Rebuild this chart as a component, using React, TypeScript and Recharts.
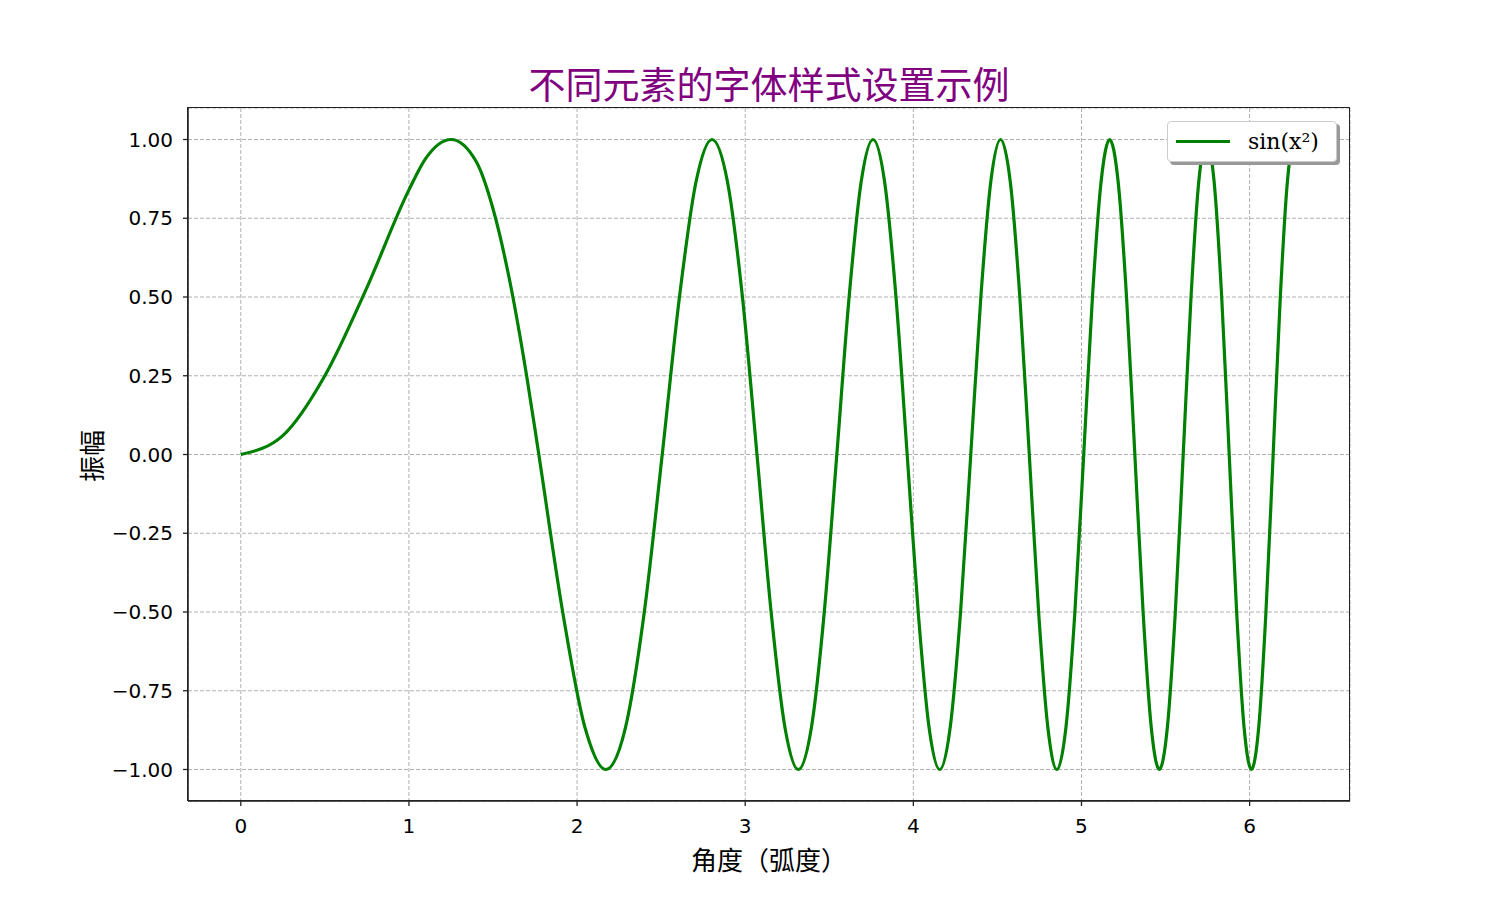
import React from 'react';
import { LineChart, Line, XAxis, YAxis, CartesianGrid } from 'recharts';

// x positions (zero crossings, half/peak points of each lobe)
const xValues = [
  0, 0.25, 0.5, 0.75, 1.0, 1.1, 1.25, 1.4, 1.5, 1.6, 1.7,
  1.7725, 1.9145, 2.0466, 2.1708, 2.2882, 2.3999,
  2.5066, 2.609, 2.7075, 2.8025, 2.8944, 2.9835,
  3.07, 3.1541, 3.2361, 3.316, 3.394, 3.4703,
  3.5449, 3.618, 3.6897, 3.7599, 3.829, 3.8967,
  3.9633, 4.0289, 4.0933, 4.1568, 4.2193, 4.2809,
  4.3416, 4.4015, 4.4606, 4.5189, 4.5765, 4.6333,
  4.6895, 4.745, 4.7998, 4.8541, 4.9077, 4.9608,
  5.0133, 5.0652, 5.1166, 5.1675, 5.218, 5.2679,
  5.3174, 5.3664, 5.4149, 5.4631, 5.5108, 5.5581,
  5.605, 5.6515, 5.6976, 5.7434, 5.7888, 5.8339,
  5.8786, 5.9229, 5.967, 6.0107, 6.0541, 6.0971,
  6.14, 6.1825, 6.2247, 6.2666, 6.2832,
];

const yValues = [
  0, 0.06, 0.25, 0.53, 0.84, 0.94, 1.0, 0.93, 0.78, 0.55, 0.25,
  0, -0.5, -0.866, -1, -0.866, -0.5,
  0, 0.5, 0.866, 1, 0.866, 0.5,
  0, -0.5, -0.866, -1, -0.866, -0.5,
  0, 0.5, 0.866, 1, 0.866, 0.5,
  0, -0.5, -0.866, -1, -0.866, -0.5,
  0, 0.5, 0.866, 1, 0.866, 0.5,
  0, -0.5, -0.866, -1, -0.866, -0.5,
  0, 0.5, 0.866, 1, 0.866, 0.5,
  0, -0.5, -0.866, -1, -0.866, -0.5,
  0, 0.5, 0.866, 1, 0.866, 0.5,
  0, -0.5, -0.866, -1, -0.866, -0.5,
  0, 0.5, 0.866, 1, 0.978,
];

const xTicks = [0, 1, 2, 3, 4, 5, 6];
const yTicks = [-1, -0.75, -0.5, -0.25, 0, 0.25, 0.5, 0.75, 1];

const seriesName = 'sin(x²)';
const titleText = '不同元素的字体样式设置示例';
const xLabelText = '角度（弧度）';
const yLabelText = '振幅';

const data = xValues.map((x, i) => ({ x, y: yValues[i] }));

const CJK = '"Noto Sans CJK SC", "Noto Sans", sans-serif';
const TICK_FONT = '"DejaVu Sans", sans-serif';
const X_DOMAIN: [number, number] = [-0.314, 6.597];
const Y_DOMAIN: [number, number] = [-1.1, 1.1];

function LegendBox() {
  return (
    <div
      style={{
        position: 'absolute',
        left: 1167,
        top: 121,
        width: 170,
        height: 41,
        boxSizing: 'border-box',
        border: '1px solid #cccccc',
        borderRadius: 4,
        background: '#fff',
        boxShadow: '3px 3px 0 #999999',
        display: 'flex',
        alignItems: 'center',
        paddingLeft: 8,
      }}
    >
      <div style={{ width: 54, height: 3, background: '#008000' }} />
      <span style={{ marginLeft: 18, fontFamily: '"DejaVu Serif", serif', fontSize: 22, color: '#000' }}>
        {seriesName}
      </span>
    </div>
  );
}

export default function App() {
  return (
    <div style={{ position: 'absolute', left: 0, top: 0, width: 1500, height: 900, background: '#fff' }}>
      <LineChart width={1500} height={900} data={data} margin={{ top: 108, right: 150, bottom: 59, left: 88 }}>
        <CartesianGrid stroke="#b0b0b0" strokeDasharray="4 2" strokeWidth={1} />
        <XAxis
          dataKey="x"
          type="number"
          domain={X_DOMAIN}
          ticks={xTicks}
          allowDataOverflow
          height={40}
          tickSize={5}
          tickMargin={13}
          tick={{ fill: '#000', fontSize: 20, fontFamily: TICK_FONT }}
          tickLine={{ stroke: '#222', strokeWidth: 1.3 }}
          axisLine={{ stroke: '#222', strokeWidth: 1.5 }}
        />
        <YAxis
          type="number"
          domain={Y_DOMAIN}
          ticks={yTicks}
          allowDataOverflow
          width={100}
          tickSize={5}
          tickMargin={10}
          tickFormatter={(v: number) => v.toFixed(2).replace('-', '−')}
          tick={{ fill: '#000', fontSize: 20, fontFamily: TICK_FONT }}
          tickLine={{ stroke: '#222', strokeWidth: 1.3 }}
          axisLine={{ stroke: '#222', strokeWidth: 1.5 }}
        />
        <Line
          type="monotone"
          dataKey="y"
          name={seriesName}
          stroke="#008000"
          strokeWidth={3.2}
          dot={false}
          isAnimationActive={false}
        />
      </LineChart>
      {/* plot frame */}
      <div
        style={{
          position: 'absolute', left: 187, top: 107, width: 1163, height: 694,
          border: '1.5px solid #222', boxSizing: 'border-box', pointerEvents: 'none',
        }}
      />
      <LegendBox />
      <div
        style={{
          position: 'absolute', left: 769, top: 83, transform: 'translate(-50%, -50%)',
          fontFamily: CJK, fontSize: 37, color: '#800080', whiteSpace: 'nowrap',
        }}
      >
        {titleText}
      </div>
      <div
        style={{
          position: 'absolute', left: 769, top: 858, transform: 'translate(-50%, -50%)',
          fontFamily: CJK, fontSize: 26, color: '#000', whiteSpace: 'nowrap',
        }}
      >
        {xLabelText}
      </div>
      <div
        style={{
          position: 'absolute', left: 90, top: 456, transform: 'translate(-50%, -50%) rotate(-90deg)',
          fontFamily: CJK, fontSize: 26, color: '#000', whiteSpace: 'nowrap',
        }}
      >
        {yLabelText}
      </div>
    </div>
  );
}
